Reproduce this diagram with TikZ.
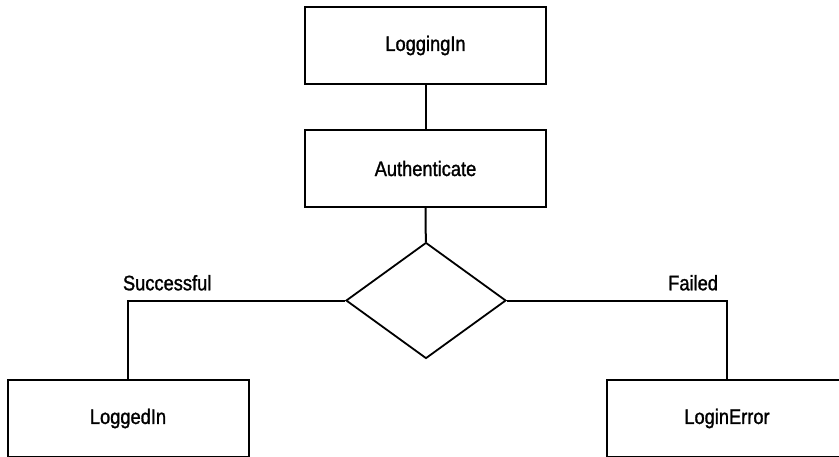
\documentclass[tikz,border=0pt]{standalone}
\usepackage{fontspec}
\setmainfont{Liberation Sans}[FakeStretch=0.87, FakeBold=1.3]
\usepackage{tikz}
\usetikzlibrary{shapes.geometric}

\tikzset{
  statebox/.style={draw, line width=2pt, minimum width=241pt, minimum height=77pt, inner sep=0pt},
  decisionbox/.style={draw, diamond, line width=1.8pt, minimum width=160pt, minimum height=116pt, inner sep=0pt},
  link/.style={line width=2pt},
  guard/.style={inner sep=0pt}
}

\begin{document}
\begin{tikzpicture}[x=1pt, y=-1pt, font=\fontsize{21}{25}\selectfont]
\useasboundingbox (0,0) rectangle (839,456);
\clip (0,0) rectangle (839,456);
\node[statebox] (loggingin) at (425.5,45.5) {LoggingIn};
\node[statebox] (authenticate) at (425.5,168.5) {Authenticate};
\node[decisionbox] (decision) at (426,300.5) {};
\node[statebox] (loggedin) at (128,418.5) {LoggedIn};
\node[statebox] (loginerror) at (727,418.5) {LoginError};
\draw[link] (loggingin) -- (authenticate);
\draw[link] (authenticate) -- (decision);
\draw[link] (decision.west) -| node[guard, pos=0.5, anchor=south west, xshift=-6pt, yshift=9pt] {Successful} (loggedin.north);
\draw[link] (decision.east) -| node[guard, pos=0.5, anchor=south east, xshift=-8pt, yshift=9pt] {Failed} (loginerror.north);
\end{tikzpicture}
\end{document}
